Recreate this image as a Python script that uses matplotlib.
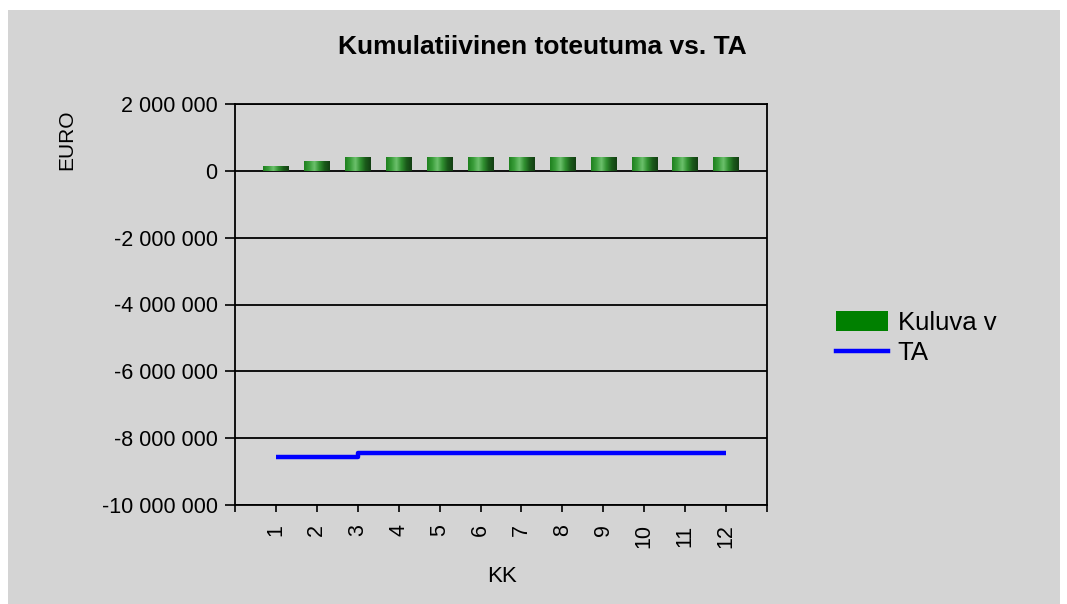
import numpy as np
import matplotlib.pyplot as plt
from matplotlib.colors import LinearSegmentedColormap
from matplotlib.patches import Rectangle, Patch
from matplotlib.lines import Line2D
from matplotlib.ticker import FuncFormatter

plt.rcParams['font.family'] = ['Liberation Sans', 'DejaVu Sans']

kk = [1, 2, 3, 4, 5, 6, 7, 8, 9, 10, 11, 12]
kuluva_v = [140000, 270000, 390000, 390000, 390000, 390000,
            390000, 390000, 390000, 390000, 390000, 390000]
ta = [-8560000, -8560000, -8440000, -8440000, -8440000, -8440000,
      -8440000, -8440000, -8440000, -8440000, -8440000, -8440000]
y_ticks = [2000000, 0, -2000000, -4000000, -6000000, -8000000, -10000000]

bg = '#d4d4d4'
fig = plt.figure(figsize=(10.67, 6.04), dpi=100, facecolor='white')
fig.patches.append(Rectangle((8 / 1067, 0), 1052 / 1067, 594 / 604,
                             transform=fig.transFigure, facecolor=bg,
                             edgecolor='none', zorder=-10))

ax = fig.add_axes([235 / 1067, 1 - 505 / 604, 532 / 1067, 401 / 604])
ax.set_facecolor(bg)

# bars with a cylinder-like shading
cyl = LinearSegmentedColormap.from_list(
    'cyl', ['#1f801f', '#3a9e3a', '#6cc06c', '#2f8f2f', '#1a5a1a', '#133f13'])
grad = np.linspace(0, 1, 64).reshape(1, -1)
w = 0.62
for x, h in zip(kk, kuluva_v):
    ax.imshow(grad, cmap=cyl, aspect='auto', interpolation='bilinear',
              extent=[x - w / 2, x + w / 2, 0, h], zorder=3)

ax.plot(kk, ta, color='#0000ff', lw=3.2, drawstyle='steps-post', zorder=4,
        solid_capstyle='butt')

ax.set_xlim(0, 13)
ax.set_ylim(-10000000, 2000000)
ax.set_yticks(y_ticks)
ax.yaxis.set_major_formatter(FuncFormatter(lambda v, p: f'{int(v):,}'.replace(',', ' ')))
ax.set_xticks(range(0, 14))
ax.set_xticklabels([''] + [str(k) for k in kk] + [''], rotation=90)
ax.grid(axis='y', color='black', lw=1.3, zorder=1)
ax.tick_params(axis='both', direction='out', width=1.2, colors='black',
               labelsize=15.5)
ax.tick_params(axis='y', length=7, pad=5.5)
ax.tick_params(axis='x', length=5, pad=9)
for s in ax.spines.values():
    s.set_color('black')
    s.set_linewidth(1.3)

fig.text(542 / 1067, 1 - 47 / 604, 'Kumulatiivinen toteutuma vs. TA',
         ha='center', va='center', fontsize=19, fontweight='bold')
fig.text(502 / 1067, 1 - 576 / 604, 'KK', ha='center', va='center', fontsize=16)
fig.text(67 / 1067, 1 - 140 / 604, 'EURO', ha='center', va='center',
         rotation=90, fontsize=15)

handles = [Patch(facecolor='#008000', edgecolor='none'),
           Line2D([0], [0], color='#0000ff', lw=3.2)]
fig.legend(handles, ['Kuluva v', 'TA'], loc='center left',
           bbox_to_anchor=(813 / 1067, 1 - 338 / 604), frameon=False,
           fontsize=18.5, handlelength=2.02, handleheight=0.8,
           handletextpad=0.38, labelspacing=0.25)

fig.savefig('out.png', dpi=100, facecolor=fig.get_facecolor())
